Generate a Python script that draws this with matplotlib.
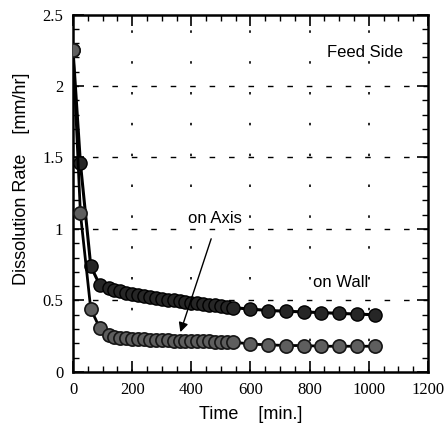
import matplotlib
matplotlib.use("Agg")
import matplotlib.pyplot as plt
from matplotlib.ticker import MultipleLocator, FixedLocator

time_min = [0, 25, 60, 90, 120, 140, 160, 180, 200, 220, 240, 260, 280, 300, 320,
            340, 360, 380, 400, 420, 440, 460, 480, 500, 520, 540,
            600, 660, 720, 780, 840, 900, 960, 1020]
rate_wall = [2.25, 1.46, 0.74, 0.61, 0.59, 0.575, 0.565, 0.555, 0.545, 0.54, 0.53,
             0.525, 0.515, 0.51, 0.505, 0.50, 0.495, 0.49, 0.485, 0.48, 0.475, 0.47,
             0.465, 0.46, 0.455, 0.45,
             0.44, 0.43, 0.425, 0.42, 0.415, 0.41, 0.405, 0.40]
rate_axis = [2.25, 1.11, 0.44, 0.31, 0.26, 0.245, 0.24, 0.235, 0.232, 0.23, 0.228,
             0.226, 0.225, 0.224, 0.222, 0.22, 0.219, 0.218, 0.217, 0.216, 0.215,
             0.214, 0.213, 0.212, 0.211, 0.21,
             0.195, 0.19, 0.185, 0.185, 0.18, 0.18, 0.18, 0.18]
x_ticks = [0, 200, 400, 600, 800, 1000, 1200]
y_ticks = [0, 0.5, 1, 1.5, 2, 2.5]
y_tick_labels = ["0", "0.5", "1", "1.5", "2", "2.5"]

fig = plt.figure(figsize=(4.46, 4.33), dpi=100)
ax = fig.add_axes([0.1637, 0.1409, 0.7959, 0.8256])

ax.plot(time_min, rate_wall, '-', color='black', lw=2.2, marker='o', ms=9.5,
        mfc='#262626', mec='black', mew=1.0, zorder=4)
ax.plot(time_min, rate_axis, '-', color='black', lw=2.0, marker='o', ms=9.5,
        mfc='#5e5e5e', mec='#151515', mew=1.2, zorder=4)

ax.set_xlim(0, 1200)
ax.set_ylim(0, 2.5)

ax.xaxis.set_major_locator(FixedLocator(x_ticks))
ax.xaxis.set_minor_locator(MultipleLocator(50))
ax.yaxis.set_major_locator(FixedLocator(y_ticks))
ax.yaxis.set_minor_locator(MultipleLocator(0.1))
ax.set_yticklabels(y_tick_labels)

for lab in ax.get_xticklabels() + ax.get_yticklabels():
    lab.set_fontfamily('Liberation Serif')
    lab.set_fontsize(12)

ax.tick_params(which='major', direction='in', length=8, width=1.2,
               top=True, right=True, pad=7)
ax.tick_params(which='minor', direction='in', length=4, width=1.0,
               top=True, right=True)

for s in ax.spines.values():
    s.set_linewidth(1.8)

# grid
for yv in [0.5, 1, 1.5, 2]:
    ax.axhline(yv, color='black', lw=1.0, ls=(0, (4, 10)), zorder=1)
for xv in [200, 400, 600, 800, 1000]:
    ax.axvline(xv, color='black', lw=1.2, ls=(0, (1.5, 17)), zorder=1)

ax.set_xlabel("Time    [min.]", fontfamily='Liberation Sans', fontsize=13, labelpad=6)
ax.set_ylabel("Dissolution Rate    [mm/hr]", fontfamily='Liberation Sans', fontsize=13)
ax.yaxis.set_label_coords(-0.12, 0.54)

ax.text(0.93, 0.895, "Feed Side", transform=ax.transAxes, ha='right', va='center',
        fontfamily='Liberation Sans', fontsize=12,
        bbox=dict(facecolor='white', edgecolor='none', pad=1))
ax.text(0.40, 0.43, "on Axis", transform=ax.transAxes, ha='center', va='center',
        fontfamily='Liberation Sans', fontsize=12, zorder=5,
        bbox=dict(facecolor='white', edgecolor='none', pad=1))
ax.text(0.755, 0.25, "on Wall", transform=ax.transAxes, ha='center', va='center',
        fontfamily='Liberation Sans', fontsize=12)
ax.annotate("", xy=(360, 0.26), xytext=(470, 0.95),
            arrowprops=dict(arrowstyle='-|>', color='black', lw=1.0,
                            mutation_scale=14), zorder=5)

fig.savefig("out.png", dpi=100)
